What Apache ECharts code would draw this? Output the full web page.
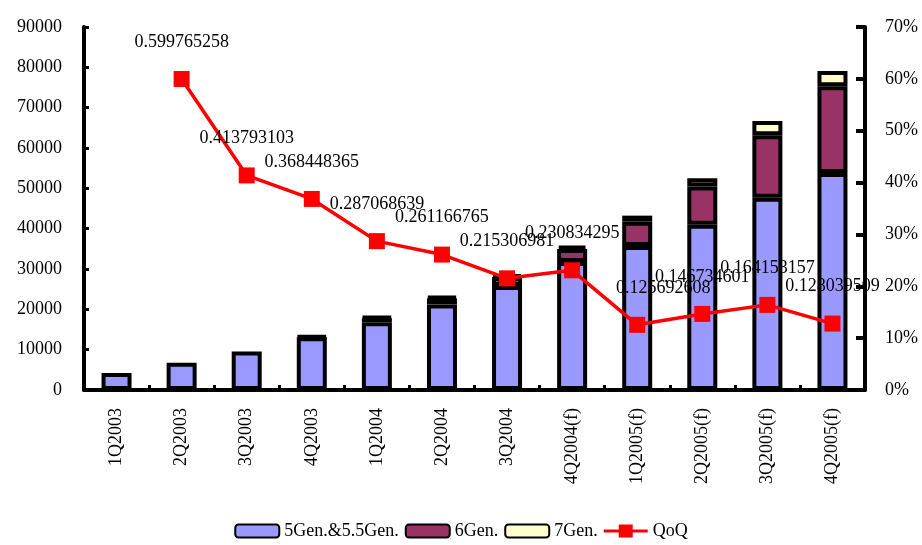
<!DOCTYPE html>
<html>
<head>
<meta charset="utf-8">
<script src="https://cdn.jsdelivr.net/npm/echarts@6/dist/echarts.min.js"></script>
<style>
  html, body { margin: 0; padding: 0; background: #ffffff; }
  #chart { width: 922px; height: 545px; }
</style>
</head>
<body>
<div id="chart"></div>
<script>
// Quarterly shipments by generation (stacked) and QoQ growth of 5Gen.&5.5Gen.
const quarters = ['1Q2003', '2Q2003', '3Q2003', '4Q2003', '1Q2004', '2Q2004', '3Q2004',
                  '4Q2004(f)', '1Q2005(f)', '2Q2005(f)', '3Q2005(f)', '4Q2005(f)'];
const gen5 = [4220, 6760, 9550, 13070, 16820, 21220, 25790, 31740, 35730, 40970, 47690, 53800];
const gen6 = [null, null, null, 300, 1000, 1500, 2200, 3200, 6000, 9500, 15500, 21500];
const gen7 = [null, null, null, null, 300, 400, 500, 800, 1500, 2000, 3500, 3800];
const qoq = [null, 0.599765258, 0.413793103, 0.368448365, 0.287068639, 0.261166765,
             0.215306981, 0.230834295, 0.125692608, 0.146734601, 0.164153157, 0.128039509];
const leftTicks = { min: 0, max: 90000, interval: 10000 };
const rightTicks = { min: 0, max: 0.7, interval: 0.1 };

const serif = '"Liberation Serif", "DejaVu Serif", serif';
const chart = echarts.init(document.getElementById('chart'));

const barStyle = (color) => ({ color: color, borderColor: '#000', borderWidth: 4 });

chart.setOption({
  animation: false,
  backgroundColor: '#ffffff',
  textStyle: { fontFamily: serif },
  grid: { left: 84, right: 57, top: 27, bottom: 155, containLabel: false },
  legend: {
    bottom: 0,
    left: 'center',
    itemWidth: 44,
    itemHeight: 13,
    itemGap: 6,
    textStyle: { fontFamily: serif, fontSize: 18, color: '#000' },
    data: [
      '5Gen.&5.5Gen.', '6Gen.', '7Gen.',
      { name: 'QoQ', icon: 'path://M0,5H44V8H0Z M15,0H29V13H15Z', itemStyle: { color: '#ff0000' } }
    ]
  },
  xAxis: {
    type: 'category',
    data: quarters,
    axisLine: { lineStyle: { color: '#000', width: 4 } },
    axisTick: { show: true, inside: true, length: 5, lineStyle: { color: '#000', width: 3 } },
    axisLabel: { rotate: 90, margin: 18, fontFamily: serif, fontSize: 18, color: '#000' }
  },
  yAxis: [
    {
      type: 'value',
      min: leftTicks.min, max: leftTicks.max, interval: leftTicks.interval,
      splitLine: { show: false },
      axisLine: { show: true, lineStyle: { color: '#000', width: 4 } },
      axisTick: { show: true, inside: true, length: 5, lineStyle: { color: '#000', width: 3 } },
      axisLabel: {
        margin: 22, fontFamily: serif, fontSize: 18, color: '#000',
        formatter: (v) => String(v)
      }
    },
    {
      type: 'value',
      min: rightTicks.min, max: rightTicks.max, interval: rightTicks.interval,
      splitLine: { show: false },
      axisLine: { show: true, lineStyle: { color: '#000', width: 4 } },
      axisTick: { show: true, inside: true, length: 9, lineStyle: { color: '#000', width: 4 } },
      axisLabel: {
        margin: 20, fontFamily: serif, fontSize: 18, color: '#000',
        formatter: (v) => Math.round(v * 100) + '%'
      }
    }
  ],
  series: [
    {
      name: '5Gen.&5.5Gen.', type: 'bar', stack: 'gen', data: gen5,
      barWidth: 30, itemStyle: barStyle('#9999ff')
    },
    {
      name: '6Gen.', type: 'bar', stack: 'gen', data: gen6,
      barWidth: 30, itemStyle: barStyle('#993366')
    },
    {
      name: '7Gen.', type: 'bar', stack: 'gen', data: gen7,
      barWidth: 30, itemStyle: barStyle('#ffffcc')
    },
    {
      name: 'QoQ', type: 'line', yAxisIndex: 1, data: qoq.map((v, i) => {
        if (i === 8) {
          return { value: v, label: { offset: [26, 0] } };
        }
        return v;
      }),
      z: 5,
      symbol: 'rect', symbolSize: 16,
      lineStyle: { color: '#ff0000', width: 3.5 },
      itemStyle: { color: '#ff0000' },
      label: {
        show: true, position: 'top', distance: 20,
        fontFamily: serif, fontSize: 18, color: '#000',
        formatter: (p) => String(p.value)
      }
    }
  ]
});
</script>
</body>
</html>
